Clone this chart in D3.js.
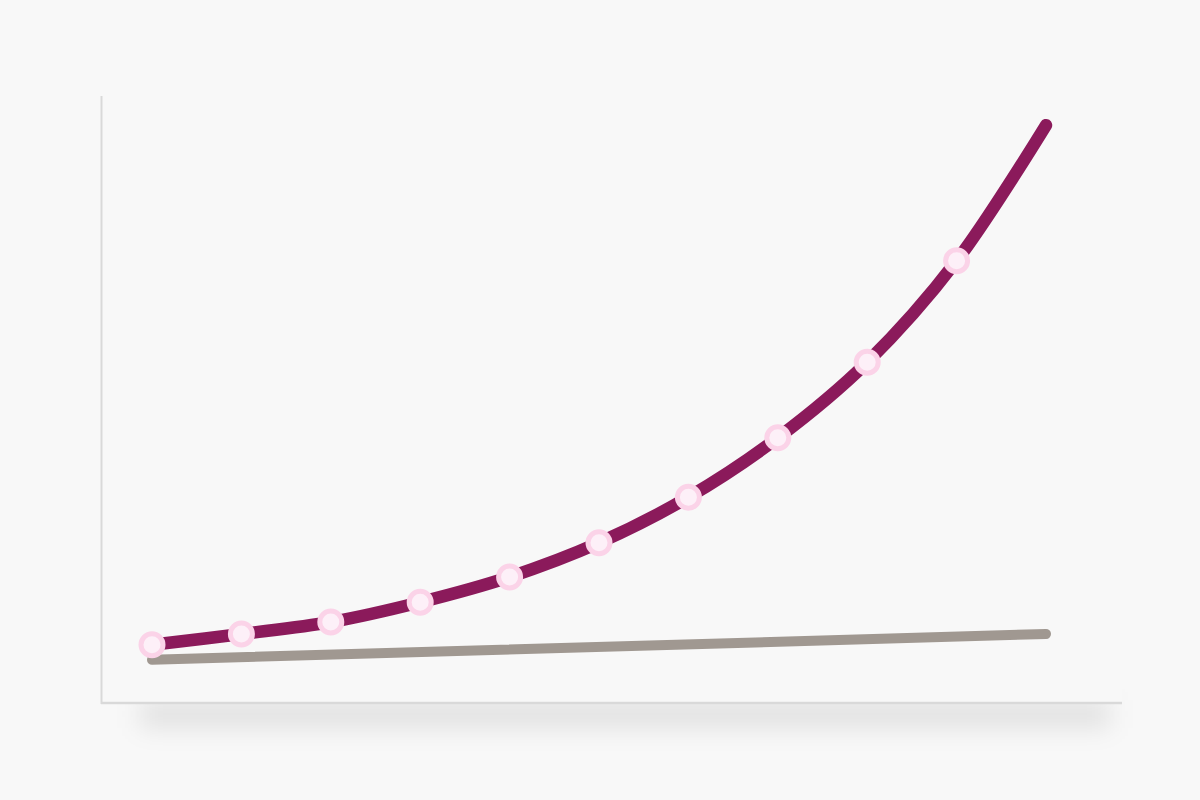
<!DOCTYPE html>
<html>
<head>
<meta charset="utf-8">
<script src="https://cdn.jsdelivr.net/npm/d3@7"></script>
<style>
  html, body { margin: 0; padding: 0; background: #f8f8f8; }
  svg { display: block; }
</style>
</head>
<body>
<svg id="chart" width="1200" height="800"></svg>
<script>
// data (index along x, value along y)
var steps = [0, 1, 2, 3, 4, 5, 6, 7, 8, 9, 10]
var growth = [9.2, 11, 13, 16.3, 20.5, 26.2, 33.8, 43.7, 56.3, 73.2, 95.8]
var baseSteps = [0, 10]
var baseline = [6.7, 11]
var markerSteps = steps.slice(0, 10)

var width = 1200, height = 800

var svg = d3.select("#chart")

var xPositionScale = d3.scaleLinear().domain([0, 10]).range([152, 1046])
var yPositionScale = d3.scaleLinear().domain([0, 100]).range([700, 100])

// soft shadow under the x axis
var defs = svg.append("defs")
defs.append("filter")
  .attr("id", "blur")
  .attr("x", "-10%").attr("y", "-100%")
  .attr("width", "120%").attr("height", "300%")
  .append("feGaussianBlur")
  .attr("stdDeviation", 12)

svg.append("rect")
  .attr("x", 140)
  .attr("y", 700)
  .attr("width", 970)
  .attr("height", 28)
  .attr("fill", "#000")
  .attr("fill-opacity", 0.09)
  .attr("filter", "url(#blur)")

svg.append("rect")
  .attr("x", 101)
  .attr("y", 96)
  .attr("width", 1021)
  .attr("height", 607)
  .attr("fill", "#f8f8f8")

// axes, no ticks
svg.append("line")
  .attr("x1", 101.5).attr("x2", 101.5)
  .attr("y1", 96).attr("y2", 704)
  .attr("stroke", "#d9d9d9")
  .attr("stroke-width", 2)

svg.append("line")
  .attr("x1", 101).attr("x2", 1122)
  .attr("y1", 703).attr("y2", 703)
  .attr("stroke", "#d9d9d9")
  .attr("stroke-width", 2.5)

var baseLine = d3.line()
  .x((d, i) => xPositionScale(baseSteps[i]))
  .y((d) => yPositionScale(d))

svg.append("path")
  .datum(baseline)
  .attr("d", baseLine)
  .attr("fill", "none")
  .attr("stroke", "#a09891")
  .attr("stroke-width", 10)
  .attr("stroke-linecap", "round")

var growthLine = d3.line()
  .x((d, i) => xPositionScale(steps[i]))
  .y((d) => yPositionScale(d))
  .curve(d3.curveCatmullRom)

svg.append("path")
  .datum(growth)
  .attr("d", growthLine)
  .attr("fill", "none")
  .attr("stroke", "#8b1a5b")
  .attr("stroke-width", 12.5)
  .attr("stroke-linecap", "round")

svg.selectAll("circle.marker")
  .data(markerSteps)
  .enter().append("circle")
  .attr("class", "marker")
  .attr("cx", (d) => xPositionScale(d))
  .attr("cy", (d) => yPositionScale(growth[d]))
  .attr("r", 11)
  .attr("fill", "#fdf0f8")
  .attr("stroke", "#fbd3e8")
  .attr("stroke-width", 5)
</script>
</body>
</html>
